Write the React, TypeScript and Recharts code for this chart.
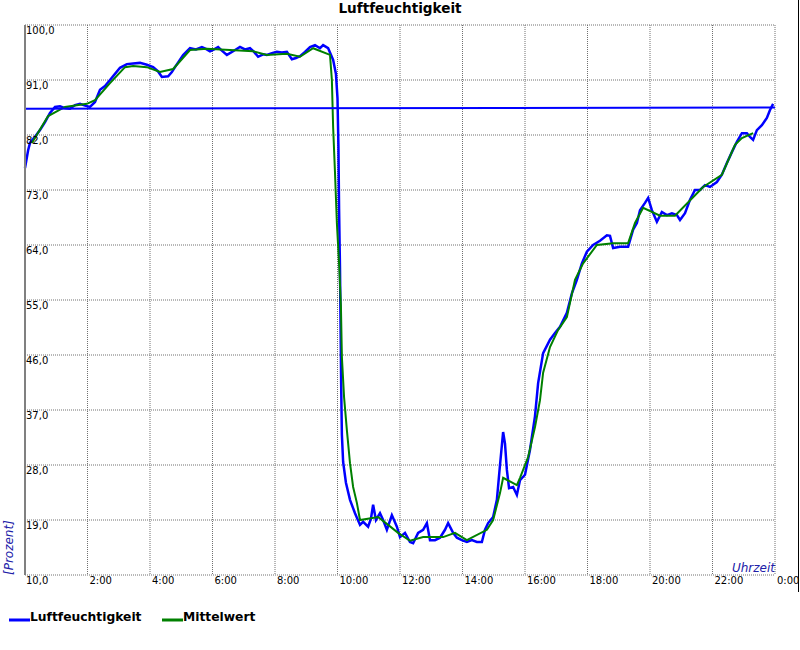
import React from 'react'
import { LineChart, Line, XAxis, YAxis, CartesianGrid, ReferenceLine } from 'recharts'

// Luftfeuchtigkeit (raw readings), hours since midnight
const humidityHours = [
  0.0, 0.1, 0.16, 0.32, 0.48, 0.64, 0.8, 0.96, 1.12, 1.28, 1.44, 1.6, 1.76, 1.92, 2.08, 2.24,
  2.4, 2.56, 2.72, 2.88, 3.04, 3.26, 3.46, 3.68, 3.9, 4.1, 4.26, 4.38, 4.58, 4.7, 4.8, 5.06,
  5.28, 5.47, 5.66, 5.79, 5.92, 6.05, 6.18, 6.3, 6.46, 6.66, 6.88, 7.04, 7.2, 7.33, 7.46, 7.62,
  7.74, 7.9, 8.06, 8.22, 8.38, 8.54, 8.67, 8.8, 8.96, 9.12, 9.28, 9.44, 9.54, 9.7, 9.86, 9.95,
  10.0, 10.03, 10.05, 10.08, 10.1, 10.12, 10.14, 10.18, 10.27, 10.4, 10.56, 10.72, 10.82, 10.98,
  11.07, 11.14, 11.23, 11.36, 11.46, 11.58, 11.74, 11.9, 12.0, 12.16, 12.32, 12.42, 12.58, 12.74,
  12.86, 12.96, 13.12, 13.28, 13.44, 13.54, 13.7, 13.82, 13.98, 14.14, 14.3, 14.46, 14.62, 14.72,
  14.82, 14.98, 15.1, 15.2, 15.3, 15.36, 15.42, 15.49, 15.62, 15.74, 15.84, 16.0, 16.16, 16.32,
  16.42, 16.58, 16.8, 16.96, 17.12, 17.34, 17.5, 17.66, 17.82, 17.98, 18.18, 18.4, 18.62, 18.72,
  18.82, 19.04, 19.3, 19.46, 19.58, 19.68, 19.84, 19.94, 20.06, 20.22, 20.38, 20.54, 20.7, 20.86,
  20.96, 21.12, 21.28, 21.44, 21.6, 21.76, 21.92, 22.14, 22.3, 22.46, 22.62, 22.78, 22.94, 23.1,
  23.2, 23.3, 23.42, 23.58, 23.74, 23.84, 23.94
]
const humidityValues = [
  76.6, 79.5, 80.7, 81.7, 82.8, 84.1, 85.6, 86.6, 86.7, 86.4, 86.3, 86.9, 87.1, 86.8, 86.6, 87.4,
  89.4, 90.0, 91.0, 92.0, 93.0, 93.6, 93.7, 93.8, 93.5, 93.1, 92.4, 91.5, 91.6, 92.3, 93.1, 95.1,
  96.2, 96.0, 96.4, 96.1, 95.7, 96.0, 96.4, 95.8, 95.1, 95.7, 96.4, 96.0, 96.2, 95.6, 94.8, 95.2,
  95.1, 95.4, 95.6, 95.5, 95.6, 94.4, 94.6, 94.9, 95.6, 96.4, 96.7, 96.2, 96.7, 96.2, 94.3, 92.0,
  88.0, 80.0, 70.0, 60.0, 50.0, 40.0, 33.0, 28.5, 25.1, 22.3, 20.1, 18.2, 18.7, 17.9,
  19.2, 21.5, 19.0, 20.1, 19.0, 17.4, 19.8, 17.9, 16.2, 16.9, 15.4, 15.2, 16.9, 17.4,
  18.5, 15.7, 15.7, 16.1, 17.4, 18.5, 16.9, 16.1, 15.7, 15.4, 15.7, 15.4, 15.4, 17.4,
  18.5, 19.5, 22.3, 28.0, 33.4, 31.5, 27.2, 24.2, 24.4, 23.1, 25.5, 26.4, 30.5, 36.0,
  41.4, 46.3, 48.5, 49.6, 50.6, 52.9, 56.1, 58.3, 61.0, 62.9, 64.0, 64.7, 65.6, 65.5,
  63.5, 63.7, 63.7, 66.5, 67.6, 69.7, 70.9, 71.7, 69.7, 67.8, 69.4, 68.9, 69.2, 68.9,
  68.1, 69.2, 71.4, 73.0, 73.0, 73.8, 73.5, 74.3, 75.5, 77.4, 79.2, 80.9, 82.3, 82.3,
  81.7, 81.2, 82.8, 83.6, 84.8, 86.1, 87.1
]

// Mittelwert (smoothed)
const meanHours = [
  0.22, 0.74, 1.28, 1.98, 2.24, 2.72, 3.2, 3.46, 3.9, 4.32, 4.74, 5.28, 5.82, 7.3, 7.74, 8.38,
  8.8, 9.22, 9.76, 9.82, 9.86, 9.92, 9.98, 10.05, 10.11, 10.14, 10.21, 10.3, 10.4, 10.5, 10.62,
  10.72, 11.3, 11.62, 11.94, 12.32, 12.74, 13.38, 13.76, 14.14, 14.78, 14.98, 15.2, 15.3, 15.74,
  15.84, 16.1, 16.32, 16.48, 16.58, 16.8, 17.06, 17.34, 17.6, 17.86, 18.3, 18.82, 19.3, 19.52,
  19.78, 20.32, 20.8, 21.7, 22.3, 22.72, 22.94, 23.3
]
const meanValues = [
  80.7, 85.1, 86.6, 87.1, 87.7, 90.5, 93.1, 93.3, 93.1, 92.3, 92.8, 95.9, 96.1, 95.7, 95.1, 95.3,
  94.8, 96.2, 95.1, 91.0, 83.3, 75.8, 67.6, 61.0, 53.9, 45.7, 39.1, 33.7, 28.3, 24.4, 21.8,
  19.0, 19.5, 18.2, 16.9, 15.6, 16.2, 16.2, 16.9, 15.7, 17.4, 19.0, 23.4, 25.9, 24.7,
  25.9, 29.3, 34.2, 38.6, 43.1, 47.3, 50.1, 52.2, 58.3, 61.0, 64.0, 64.3, 64.3, 67.6,
  70.1, 68.8, 68.8, 73.5, 75.5, 80.4, 81.5, 82.3
]

// closing line of the humidity trace
const closeStart = 86.3
const closeEnd = 86.5

const yTicks = [10, 19, 28, 37, 46, 55, 64, 73, 82, 91, 100]
const xTicks = [0, 2, 4, 6, 8, 10, 12, 14, 16, 18, 20, 22, 24]
const xTickLabels = ['', '2:00', '4:00', '6:00', '8:00', '10:00', '12:00', '14:00', '16:00', '18:00', '20:00', '22:00', '0:00']

const humidityData = humidityHours.map((h, i) => ({ h, v: humidityValues[i] }))
const meanData = meanHours.map((h, i) => ({ h, v: meanValues[i] }))

const FONT = 'DejaVu Sans'

function YTick(props: any) {
  const { y, payload } = props
  return (
    <text x={26} y={y + 9} fontSize={10} fontFamily={FONT} fill="#000">
      {payload.value.toFixed(1).replace('.', ',')}
    </text>
  )
}

function XTick(props: any) {
  const { x, payload } = props
  const label = xTickLabels[xTicks.indexOf(payload.value)]
  if (!label) return <g />
  return (
    <text x={x + 2} y={584} fontSize={10} fontFamily={FONT} fill="#000">
      {label}
    </text>
  )
}

export default function App() {
  return (
    <div style={{ position: 'absolute', left: 0, top: 0, width: 800, height: 650, background: '#fff' }}>
      <LineChart width={800} height={650} margin={{ top: 25, right: 25, bottom: 74, left: 24 }}>
        <CartesianGrid stroke="#707070" strokeDasharray="1 1" />
        <XAxis
          dataKey="h" type="number" domain={[0, 24]} ticks={xTicks} height={1} interval={0}
          axisLine={false} tickLine={false} tick={<XTick />}
        />
        <YAxis
          type="number" domain={[10, 100]} ticks={yTicks} width={1} interval={0}
          axisLine={{ stroke: '#808080', strokeWidth: 2 }} tickLine={false} tick={<YTick />}
        />
        <Line data={humidityData} dataKey="v" stroke="#0000ff" strokeWidth={2.5} dot={false} isAnimationActive={false} />
        <Line data={meanData} dataKey="v" stroke="#008000" strokeWidth={2} dot={false} isAnimationActive={false} />
        <ReferenceLine
          segment={[{ x: 0, y: closeStart }, { x: 24, y: closeEnd }]}
          stroke="#0000ff" strokeWidth={2} ifOverflow="visible"
        />
      </LineChart>
      <svg width={800} height={650} style={{ position: 'absolute', left: 0, top: 0, pointerEvents: 'none' }}>
        <text x={400} y={13} textAnchor="middle" fontSize={13.6} fontWeight="bold" fontFamily={FONT} fill="#000">
          Luftfeuchtigkeit
        </text>
        <text transform="translate(13,575) rotate(-90)" fontSize={12} fontStyle="italic" fontFamily={FONT} fill="#2020a8">
          [Prozent]
        </text>
        <text x={775} y={572} textAnchor="end" fontSize={12} fontStyle="italic" fontFamily={FONT} fill="#2020a8">
          Uhrzeit
        </text>
        <line x1={798.5} y1={0} x2={798.5} y2={592} stroke="#000" strokeWidth={1} />
        <line x1={9} y1={620} x2={30} y2={620} stroke="#0000ff" strokeWidth={3} />
        <text x={30} y={621} fontSize={12.3} fontWeight="bold" fontFamily={FONT} fill="#000">
          Luftfeuchtigkeit
        </text>
        <line x1={162} y1={620} x2={183} y2={620} stroke="#008000" strokeWidth={3} />
        <text x={183} y={621} fontSize={12.3} fontWeight="bold" fontFamily={FONT} fill="#000">
          Mittelwert
        </text>
      </svg>
    </div>
  )
}
